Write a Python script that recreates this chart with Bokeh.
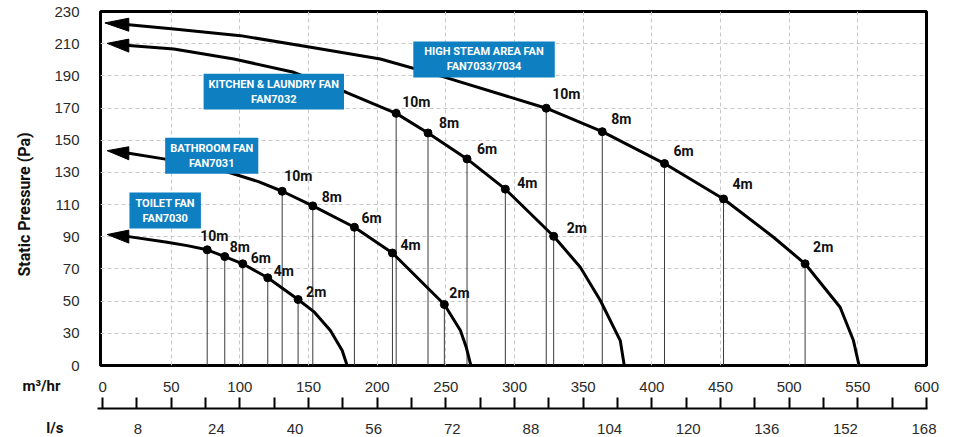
from bokeh.plotting import figure
from bokeh.models import Range1d, FixedTicker, LinearAxis, Label
from bokeh.embed import file_html
from bokeh.resources import INLINE
from bokeh.core.properties import value

# ---------------- data ----------------
fan_labels = ["TOILET FAN\nFAN7030", "BATHROOM FAN\nFAN7031",
              "KITCHEN & LAUNDRY FAN\nFAN7032", "HIGH STEAM AREA FAN\nFAN7033/7034"]

# fan curves: airflow (m3/hr) vs static pressure (Pa); first point = arrow tip
toilet_q = [3.4, 19.1, 47.1, 61.6, 76.2, 89.0, 102.1, 120.3, 142.4, 153.8, 165.9, 174.5, 178.1]
toilet_p = [91.4, 90.1, 86.6, 84.5, 81.9, 77.7, 73.2, 64.5, 51.0, 43.5, 31.7, 19.3, 10]
bath_q = [3.4, 19.1, 44.6, 71.3, 91.7, 113.5, 130.8, 153.1, 183.4, 211.1, 248.9, 260.6, 264.9, 268.2]
bath_p = [143.5, 141.9, 138.4, 134.2, 130.1, 124.3, 118.3, 109.2, 95.9, 79.9, 47.9, 31.7, 21.2, 10]
kitchen_q = [3.4, 19.1, 51.9, 95.6, 139.2, 177.4, 213.8, 237.0, 265.4, 293.3, 328.5, 347.9, 362.5, 377.0, 379.9]
kitchen_p = [210.2, 208.8, 206.7, 200.5, 192.2, 179.8, 166.7, 154.5, 138.4, 119.6, 90.3, 71.1, 50.4, 25.5, 10]
steam_q = [1.7, 19.1, 51.9, 100.4, 153.8, 202.3, 247.2, 323.1, 363.9, 409.2, 452.2, 488.6, 511.6, 537.1, 546.8, 550.9]
steam_p = [222.9, 221.8, 219.1, 215.0, 207.5, 200.5, 189.7, 169.9, 155.3, 135.5, 113.5, 89.7, 73.2, 46.2, 25.5, 10]

# duct-length operating points
duct_lengths = ["10m", "8m", "6m", "4m", "2m"]
toilet_pt_q = [76.2, 89.0, 102.1, 120.3, 142.4]
toilet_pt_p = [81.9, 77.7, 73.2, 64.5, 51.0]
bath_pt_q = [130.8, 153.1, 183.4, 211.1, 248.9]
bath_pt_p = [118.3, 109.2, 95.9, 79.9, 47.9]
kitchen_pt_q = [213.8, 237.0, 265.4, 293.3, 328.5]
kitchen_pt_p = [166.7, 154.5, 138.4, 119.6, 90.3]
steam_pt_q = [323.1, 363.9, 409.2, 452.2, 511.6]
steam_pt_p = [169.9, 155.3, 135.5, 113.5, 73.2]

# ticks
m3hr_ticks = [0, 50, 100, 150, 200, 250, 300, 350, 400, 450, 500, 550, 600]
m3hr_minor = [0, 25, 50, 75, 100, 125, 150, 175, 200, 225, 250, 275, 300,
              325, 350, 375, 400, 425, 450, 475, 500, 525, 550, 575, 600]
ls_ticks = [8, 24, 40, 56, 72, 88, 104, 120, 136, 152, 168]
pa_ticks = [10, 30, 50, 70, 90, 110, 130, 150, 170, 190, 210, 230]
pa_tick_text = {10: "0"}

# ---------------- layout / style ----------------
X0, X1 = -1.5, 600          # m3/hr across the frame
LS0, LS1 = 0.4, 168.5       # l/s scale across the frame
Y0, Y1 = 10, 230
FW, FH = 826, 354
LEFT, RIGHT, TOP = 100, 24, 11
W = LEFT + FW + RIGHT
MAIN_BOTTOM = 8
STRIP_H = 437 - (TOP + FH + MAIN_BOTTOM)
FONT = "Liberation Sans"
BOLD = "Roboto"
BLUE = "#0e7fc0"
TXT = "#2a2a2a"
DARK = "#111111"

p = figure(frame_width=FW, frame_height=FH, x_range=Range1d(X0, X1), y_range=Range1d(Y0, Y1),
           output_backend="svg", toolbar_location=None, x_axis_location=None,
           min_border_left=LEFT, min_border_right=RIGHT, min_border_top=TOP,
           min_border_bottom=MAIN_BOTTOM,
           background_fill_color="white", border_fill_color="white",
           outline_line_color="black", outline_line_width=3)

# grid
p.xgrid.ticker = FixedTicker(ticks=m3hr_ticks[1:-1])
p.ygrid.ticker = FixedTicker(ticks=pa_ticks[1:-1])
for g in (p.xgrid[0], p.ygrid[0]):
    g.grid_line_color = "#c9c9c9"
    g.grid_line_dash = "4 3"
    g.grid_line_width = 1

# y axis
ya = p.yaxis[0]
ya.ticker = FixedTicker(ticks=pa_ticks)
ya.major_label_overrides = pa_tick_text
ya.axis_line_color = None
ya.major_tick_in = 0
ya.major_tick_out = 0
ya.minor_tick_in = 0
ya.minor_tick_out = 0
ya.major_label_standoff = 21
ya.major_label_text_font = FONT
ya.major_label_text_font_size = "15px"
ya.major_label_text_color = TXT
ya.axis_label = "Static Pressure (Pa)" + "\u00a0" * 8
ya.axis_label_standoff = 17
ya.axis_label_text_font = BOLD
ya.axis_label_text_font_style = "bold"
ya.axis_label_text_font_size = "16px"
ya.axis_label_text_color = DARK

# ---------------- marks ----------------
curves = [(toilet_q, toilet_p), (bath_q, bath_p), (kitchen_q, kitchen_p), (steam_q, steam_p)]
points = [(toilet_pt_q, toilet_pt_p), (bath_pt_q, bath_pt_p),
          (kitchen_pt_q, kitchen_pt_p), (steam_pt_q, steam_pt_p)]
# label offsets (px) relative to each point: left edge dx, vertical centre dy
label_dx = [[-7, 5, 8, 6, 8], [2, 9, 7, 8, 5], [6, 11, 10, 12, 13], [6, 9, 9, 9, 8]]
label_dy = [[-14, -10, -6, -7, -8], [-15, -9, -9, -8, -12], [-11, -10, -10, -6, -8], [-14, -13, -13, -15, -17]]

for (qs, ps) in points:
    p.segment(x0=qs, y0=ps, x1=qs, y1=[Y0] * len(qs), line_color="#3a3a3a", line_width=1)

half_w = 6.5 * (Y1 - Y0) / FH   # arrowhead half width in data units
for (qs, ps) in curves:
    p.line(qs[1:], ps[1:], line_width=3, line_color="black", line_join="round", line_cap="round")
    p.patch([qs[0], qs[1], qs[1]], [ps[0], ps[1] + half_w, ps[1] - half_w],
            fill_color="black", line_color="black", line_width=1)

for (qs, ps), dxs, dys in zip(points, label_dx, label_dy):
    p.scatter(qs, ps, size=8, color="black")
    p.text(x=qs, y=ps, text=duct_lengths, x_offset=dxs, y_offset=dys,
           text_font=value(BOLD), text_font_style="bold", text_font_size="14px",
           text_align="left", text_baseline="middle", text_color=DARK)

box_q = [45.6, 79.5, 124.7, 277.8]
box_p = [106.3, 140.4, 180.2, 200.2]
box_padx = [6, 5, 5, 11]
for t, bq, bp, px in zip(fan_labels, box_q, box_p, box_padx):
    p.add_layout(Label(x=bq, y=bp, text=t, text_align="center", text_baseline="middle",
                       text_color="white", text_font=BOLD, text_font_style="bold",
                       text_font_size="11px", text_line_height=1.15,
                       background_fill_color=BLUE,
                       padding=dict(left=px, right=px, top=4, bottom=4)))

# ---------------- bottom scales strip (same x mapping as the chart frame) ----------------
s = FW / (X1 - X0)            # px per m3/hr
k = (LS1 - LS0) / FW          # l/s per px
strip = figure(width=W, height=STRIP_H,
               x_range=Range1d(X0 - LEFT / s, X1 + RIGHT / s),
               y_range=Range1d(-(MAIN_BOTTOM + STRIP_H), -MAIN_BOTTOM),
               output_backend="svg", toolbar_location=None,
               x_axis_location=None, y_axis_location=None, min_border=0,
               min_border_left=0, min_border_right=0, min_border_top=0, min_border_bottom=0,
               background_fill_color="white", border_fill_color="white", outline_line_color=None)
strip.extra_x_ranges = {"ls": Range1d(LS0 - LEFT * k, LS1 + RIGHT * k)}
strip.grid.visible = False
# strip y unit = px below the chart frame (negative downward)

m3_axis = LinearAxis(ticker=FixedTicker(ticks=m3hr_ticks), fixed_location=-10,
                     axis_line_color=None, major_tick_in=0, major_tick_out=0,
                     minor_tick_in=0, minor_tick_out=0, major_label_standoff=6,
                     major_label_text_font=FONT, major_label_text_font_size="15px",
                     major_label_text_color=TXT)
strip.add_layout(m3_axis, "below")

rule_axis = LinearAxis(ticker=FixedTicker(ticks=[], minor_ticks=m3hr_minor), fixed_location=-43,
                       bounds=(X0 - 3 / s, X1 + 0.5 / s),
                       major_tick_in=0, major_tick_out=0, minor_tick_in=11, minor_tick_out=0,
                       axis_line_width=2, axis_line_color="black",
                       minor_tick_line_width=2, minor_tick_line_color="black")
strip.add_layout(rule_axis, "below")

ls_axis = LinearAxis(x_range_name="ls", ticker=FixedTicker(ticks=ls_ticks), fixed_location=-43,
                     axis_line_color=None, major_tick_in=0, major_tick_out=0,
                     minor_tick_in=0, minor_tick_out=0, major_label_standoff=15,
                     major_label_text_font=FONT, major_label_text_font_size="15px",
                     major_label_text_color=TXT)
strip.add_layout(ls_axis, "below")

strip.add_layout(Label(x=X0 - 40 / s, y=-20, text="m³/hr", text_align="right",
                       text_baseline="middle", text_font=BOLD, text_font_style="bold",
                       text_font_size="15px", text_color=DARK))
strip.add_layout(Label(x=X0 - 37 / s, y=-62, text="l/s", text_align="right",
                       text_baseline="middle", text_font=BOLD, text_font_style="bold",
                       text_font_size="15px", text_color=DARK))

open("out.html", "w").write(file_html([p, strip], INLINE))
